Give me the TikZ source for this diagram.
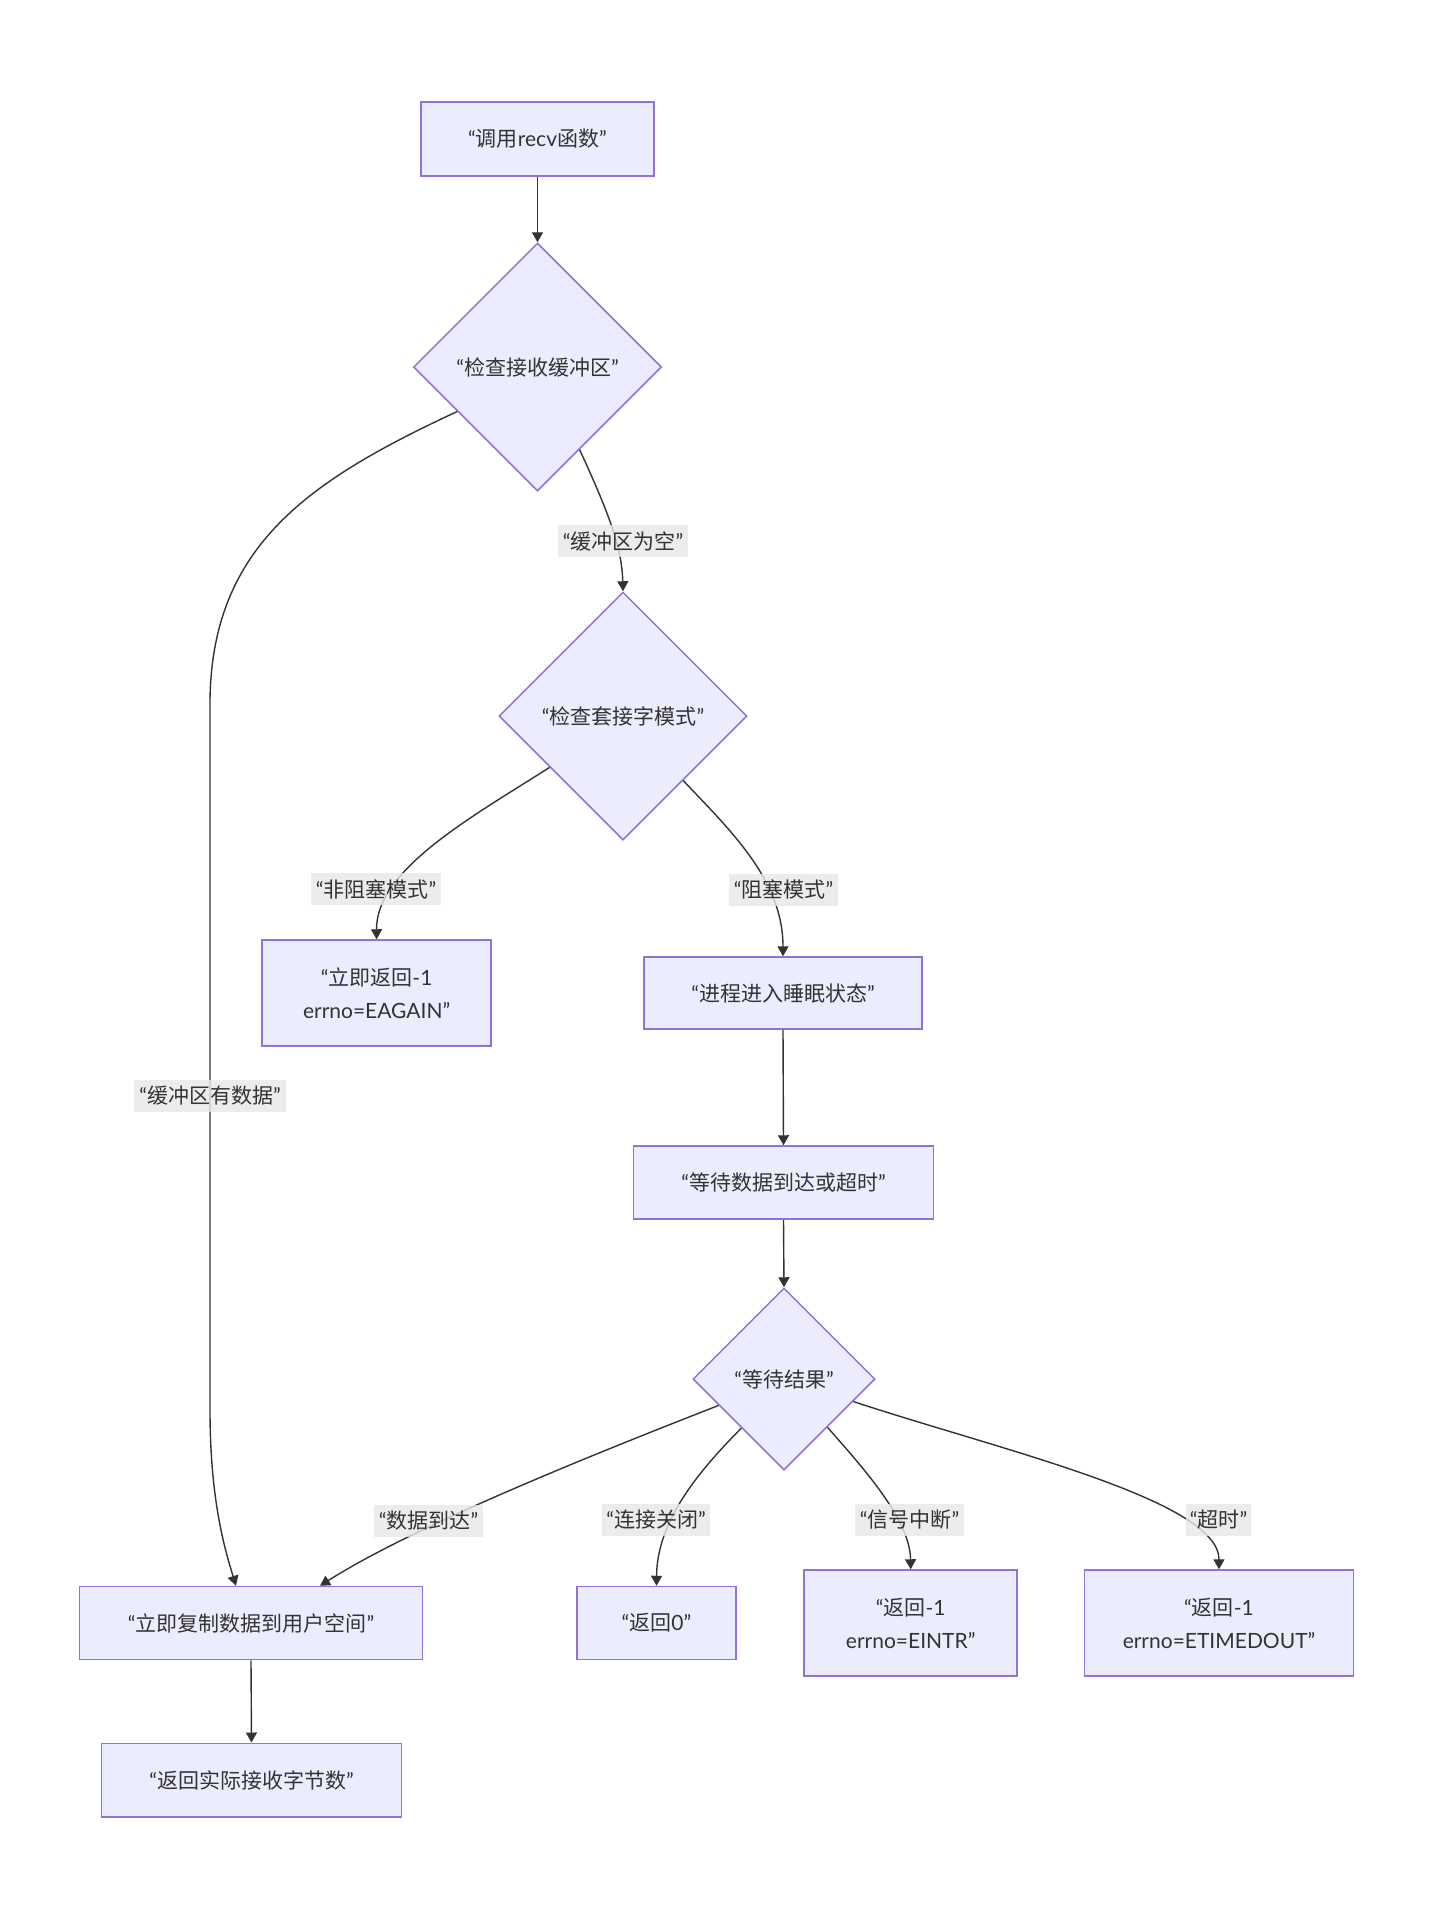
\documentclass[tikz,border=0pt]{standalone}
\usepackage{fontspec}
\setmainfont{Lato}
\newfontfamily\zhfont{Noto Sans CJK SC}
\newcommand{\zh}[1]{{\zhfont #1}}
\usetikzlibrary{shapes.geometric,arrows.meta}
\definecolor{nodefill}{HTML}{ECECFF}
\definecolor{nodeline}{HTML}{9370DB}
\definecolor{txt}{HTML}{333333}
\definecolor{lblbg}{HTML}{E8E8E8}
\tikzset{
  box/.style={draw=nodeline, fill=nodefill, line width=1.5pt, text=txt,
    font=\fontsize{21}{33}\selectfont, align=center, inner sep=0pt},
  dia/.style={diamond, aspect=1, draw=nodeline, fill=nodefill, line width=1.5pt,
    text=txt, font=\fontsize{21}{33}\selectfont, inner sep=0pt},
  lbl/.style={fill=lblbg, fill opacity=0.8, text opacity=1, text=txt, inner sep=0pt,
    font=\fontsize{21}{33}\selectfont, minimum height=32pt},
  conn/.style={draw=txt, line width=1.4pt, -{Triangle[length=10pt,width=11pt]}}
}
\begin{document}
\begin{tikzpicture}[x=1pt,y=-1pt]
\useasboundingbox[fill=white] (0,0) rectangle (1432,1920);

% nodes
\node[box, minimum width=233pt, minimum height=74pt] (n1) at (537.5,139) {“\zh{调用}recv\zh{函数}”};
\node[dia, minimum width=248pt, minimum height=248pt] (d1) at (537.5,367) {“\zh{检查接收缓冲区}”};
\node[dia, minimum width=248pt, minimum height=248pt] (d2) at (623,716) {“\zh{检查套接字模式}”};
\node[box, minimum width=229pt, minimum height=106pt] (b1) at (376.6,993) {“\zh{立即返回}-1\\errno=EAGAIN”};
\node[box, minimum width=278pt, minimum height=72pt] (b2) at (783,993) {“\zh{进程进入睡眠状态}”};
\node[box, minimum width=300pt, minimum height=73pt] (b3) at (783.5,1182.5) {“\zh{等待数据到达或超时}”};
\node[dia, minimum width=182pt, minimum height=182pt] (d3) at (784,1379) {“\zh{等待结果}”};
\node[box, minimum width=343pt, minimum height=73pt] (c1) at (251,1623) {“\zh{立即复制数据到用户空间}”};
\node[box, minimum width=300pt, minimum height=73.5pt] (c2) at (251.5,1780) {“\zh{返回实际接收字节数}”};
\node[box, minimum width=159pt, minimum height=73pt] (r0) at (656.5,1623) {“\zh{返回}0”};
\node[box, minimum width=213pt, minimum height=106pt] (r1) at (910.7,1623) {“\zh{返回}-1\\errno=EINTR”};
\node[box, minimum width=269pt, minimum height=106pt] (r2) at (1219,1623) {“\zh{返回}-1\\errno=ETIMEDOUT”};

% connectors
\draw[conn] (n1.south) -- (d1.north);
\draw[conn] (d1.-63) .. controls (605,505) and (622,545) .. (d2.north);
\draw[conn] (d1.-151) .. controls (310,480) and (212,545) .. (210,700) -- (210,1410)
  .. controls (210,1500) and (225,1550) .. ([xshift=-15pt]c1.north);
\draw[conn] (d2.-145) .. controls (470,818) and (376,870) .. (b1.north);
\draw[conn] (d2.-47) .. controls (730,830) and (783,880) .. (b2.north);
\draw[conn] (b2.south) -- (b3.north);
\draw[conn] (b3.south) -- (d3.north);
\draw[conn] (d3.-158) .. controls (540,1475) and (400,1535) .. ([xshift=69pt]c1.north);
\draw[conn] (d3.-131) .. controls (700,1470) and (657,1520) .. (r0.north);
\draw[conn] (d3.-48) .. controls (865,1470) and (910,1520) .. (r1.north);
\draw[conn] (d3.-18) .. controls (1000,1450) and (1219,1500) .. (r2.north);
\draw[conn] (c1.south) -- (c2.north);

% edge labels
\node[lbl, minimum width=130pt] (l1) at (623,541) {“\zh{缓冲区为空}”};
\node[lbl, minimum width=152pt] (l2) at (210,1095.5) {“\zh{缓冲区有数据}”};
\node[lbl, minimum width=130pt] (l3) at (376,889) {“\zh{非阻塞模式}”};
\node[lbl, minimum width=109pt] (l4) at (783.5,889.5) {“\zh{阻塞模式}”};
\node[lbl, minimum width=109pt] (l5) at (428.5,1520.5) {“\zh{数据到达}”};
\node[lbl, minimum width=108pt] (l6) at (656,1520) {“\zh{连接关闭}”};
\node[lbl, minimum width=109pt] (l7) at (909.5,1520) {“\zh{信号中断}”};
\node[lbl, minimum width=65pt] (l8) at (1218.5,1520) {“\zh{超时}”};
\end{tikzpicture}
\end{document}
